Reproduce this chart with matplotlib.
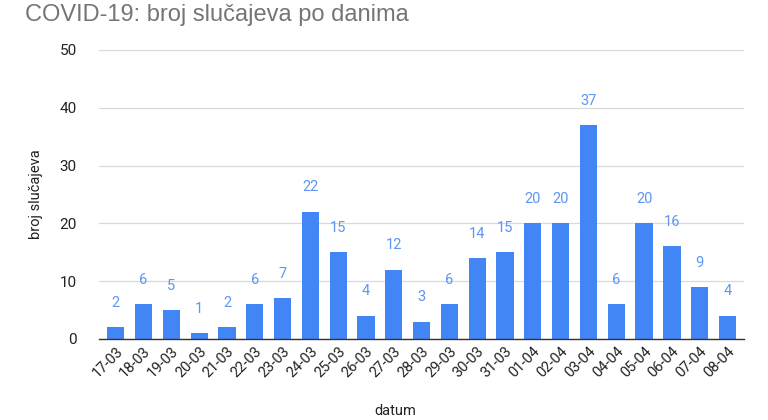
import matplotlib
matplotlib.use("Agg")
import matplotlib.pyplot as plt

datumi = ["17-03", "18-03", "19-03", "20-03", "21-03", "22-03", "23-03", "24-03",
          "25-03", "26-03", "27-03", "28-03", "29-03", "30-03", "31-03", "01-04",
          "02-04", "03-04", "04-04", "05-04", "06-04", "07-04", "08-04"]
slucajevi = [2, 6, 5, 1, 2, 6, 7, 22, 15, 4, 12, 3, 6, 14, 15, 20, 20, 37, 6, 20, 16, 9, 4]
y_ticks = [0, 10, 20, 30, 40, 50]

plava = "#4285F4"
plt.rcParams["font.family"] = ["Roboto", "DejaVu Sans"]

fig = plt.figure(figsize=(7.68, 4.2), dpi=100)
ax = fig.add_axes([0.129, 0.193, 0.84, 0.688])

x = range(len(datumi))
ax.bar(x, slucajevi, width=0.62, color=plava, zorder=3)
for i, v in zip(x, slucajevi):
    ax.text(i, v + 3, str(v), ha="center", va="bottom", color="#5c95f5", fontsize=10.5)

ax.set_xlim(-0.6, len(datumi) - 0.4)
ax.set_ylim(0, 50)
ax.set_yticks(y_ticks)
ax.set_xticks(list(x))
ax.set_xticklabels(datumi, rotation=45, ha="right", rotation_mode="anchor", fontsize=10.5, color="#222222")
ax.tick_params(axis="y", labelsize=11, colors="#222222", length=0, pad=16)
ax.tick_params(axis="x", length=0, pad=4)
ax.grid(axis="y", color="#d9d9d9", linewidth=0.9, zorder=0)
for s in ["top", "right", "left"]:
    ax.spines[s].set_visible(False)
ax.spines["bottom"].set_color("#333333")
ax.spines["bottom"].set_linewidth(1.0)
ax.spines["bottom"].set_zorder(4)

ax.set_ylabel("broj slučajeva", fontsize=10.5, color="#222222", labelpad=12)
fig.text(0.515, 0.022, "datum", ha="center", va="center", fontsize=10.5, color="#222222")
fig.text(0.032, 0.965, "COVID-19: broj slučajeva po danima", ha="left", va="center",
         fontsize=17, color="#757575", family=["Liberation Sans", "DejaVu Sans"])

fig.savefig("out.png", dpi=100)
